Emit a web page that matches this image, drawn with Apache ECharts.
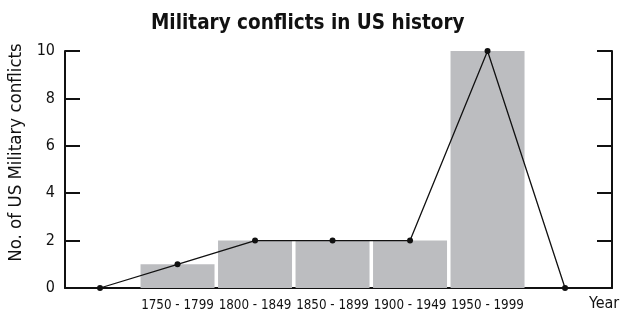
<!DOCTYPE html>
<html>
<head>
<meta charset="utf-8">
<script src="https://cdn.jsdelivr.net/npm/echarts@6/dist/echarts.min.js"></script>
<style>html,body{margin:0;padding:0;background:#fff}#chart{width:620px;height:320px}</style>
</head>
<body>
<div id="chart"></div>
<script>
// Half-century periods, their midpoints and the number of conflicts in each
const periods = ['1750 - 1799', '1800 - 1849', '1850 - 1899', '1900 - 1949', '1950 - 1999'];
const midpoints = [1775, 1825, 1875, 1925, 1975];
const conflicts = [1, 2, 2, 2, 10];
// Frequency polygon closes on empty periods either side
const polygonYears = [1725, 1775, 1825, 1875, 1925, 1975, 2025];
const polygonCounts = [0, 1, 2, 2, 2, 10, 0];
const yTicks = [0, 2, 4, 6, 8, 10];

const FONT = "'Liberation Sans Narrow', 'DejaVu Sans Condensed', sans-serif";
const chart = echarts.init(document.getElementById('chart'), null, { renderer: 'canvas' });

const axisLine = { show: true, lineStyle: { color: '#111', width: 2 } };
const axisTick = { show: true, inside: true, length: 15, lineStyle: { color: '#111', width: 2 } };

chart.setOption({
  animation: false,
  backgroundColor: '#fff',
  title: {
    text: 'Military conflicts in US history',
    left: 146, top: 8,
    textStyle: { fontFamily: FONT, fontWeight: 'bold', fontSize: 20.5, color: '#111' }
  },
  grid: { left: 65, right: 8, top: 51, bottom: 32, outerBoundsMode: 'none', containLabel: false },
  xAxis: {
    type: 'value',
    min: 1702.4, max: 2055.3,
    splitLine: { show: false },
    axisLine: axisLine,
    axisTick: { show: false },
    axisLabel: {
      customValues: midpoints,
      formatter: v => periods[midpoints.indexOf(v)] || '',
      hideOverlap: false,
      fontFamily: FONT, fontSize: 13.3, color: '#111', margin: 11
    },
    name: 'Year',
    nameLocation: 'end',
    nameGap: -23,
    nameTextStyle: { fontFamily: FONT, fontSize: 16, color: '#111', align: 'left', verticalAlign: 'top', padding: [8, 0, 0, 0] }
  },
  yAxis: [{
    type: 'value', min: 0, max: 10, interval: 2,
    position: 'left',
    splitLine: { show: false },
    axisLine: axisLine, axisTick: axisTick,
    axisLabel: { fontFamily: FONT, fontSize: 16, color: '#111', margin: 10 },
    name: 'No. of US Military conflicts',
    nameLocation: 'middle', nameGap: 33,
    nameTextStyle: { fontFamily: FONT, fontSize: 18.5, color: '#111', padding: [0, 0, 0, 34] }
  }, {
    type: 'value', min: 0, max: 10, interval: 2,
    position: 'right',
    splitLine: { show: false },
    axisLine: axisLine, axisTick: axisTick,
    axisLabel: { show: false }
  }],
  series: [{
    type: 'bar',
    data: midpoints.map((m, i) => [m, conflicts[i]]),
    barWidth: 74,
    itemStyle: { color: '#bcbdc0' },
    z: 1
  }, {
    type: 'line',
    data: polygonYears.map((y, i) => [y, polygonCounts[i]]),
    symbol: 'circle', symbolSize: 6,
    lineStyle: { color: '#111', width: 1.3 },
    itemStyle: { color: '#111' },
    z: 3
  }]
});
</script>
</body>
</html>
